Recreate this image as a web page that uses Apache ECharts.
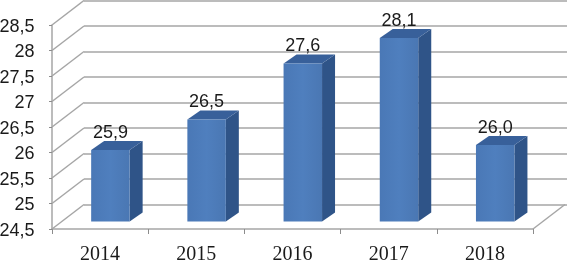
<!DOCTYPE html>
<html>
<head>
<meta charset="utf-8">
<style>html,body{margin:0;padding:0;background:#fff}#c{width:568px;height:261px}</style>
<script src="https://cdn.jsdelivr.net/npm/echarts@6/dist/echarts.min.js"></script>
</head>
<body>
<div id="c"></div>
<script>
const categories = ['2014', '2015', '2016', '2017', '2018'];
const values = [25.9, 26.5, 27.6, 28.1, 26.0];
const yTicks = [24.5, 25, 25.5, 26, 26.5, 27, 27.5, 28, 28.5];

const GRID_COLOR = '#a6a6a6';
const comma = v => String(v).replace('.', ',');
const chart = echarts.init(document.getElementById('c'), null, { renderer: 'canvas' });
const yMin = yTicks[0], yMax = yTicks[yTicks.length - 1];
const wallDx = 32, wallDy = -24.5;
const barDx = 10.3, barDy = -7.5, sideDx = 13, sideDy = -9;

function renderBar(params, api) {
  const i = api.value(0), v = api.value(1);
  const top = api.coord([i, v]), base = api.coord([i, yMin]);
  const w = api.size([1, 0])[0] * 0.4;
  const x0 = top[0] + barDx - w / 2, x1 = x0 + w;
  const yT = top[1] + barDy, yB = base[1] + barDy;
  return {
    type: 'group',
    children: [
      { type: 'polygon', shape: { points: [[x1, yT], [x1 + sideDx, yT + sideDy], [x1 + sideDx, yB + sideDy], [x1, yB]] }, style: { fill: '#2f5488' } },
      { type: 'polygon', shape: { points: [[x0, yT], [x0 + sideDx, yT + sideDy], [x1 + sideDx, yT + sideDy], [x1, yT]] }, style: { fill: '#38609a' } },
      { type: 'rect', shape: { x: x0, y: yT, width: w, height: yB - yT },
        style: { fill: new echarts.graphic.LinearGradient(0, 0, 1, 0, [{ offset: 0, color: '#4a78b6' }, { offset: 0.5, color: '#4f7fbe' }, { offset: 1, color: '#4a77b3' }]) } },
      { type: 'text', x: (x0 + x1) / 2, y: yT - 17,
        style: { text: v.toFixed(1).replace('.', ','), fontFamily: 'Liberation Sans', fontSize: 18, fill: '#1a1a1a', align: 'center', verticalAlign: 'middle' } }
    ]
  };
}

function renderFloorLines(params, api) {
  const v = api.value(0);
  const p = api.coord([0, v]);
  const cs = params.coordSys;
  const line = (x, y) => ({ type: 'line', shape: { x1: x, y1: y, x2: x + wallDx, y2: y + wallDy }, style: { stroke: GRID_COLOR, lineWidth: 1.5 } });
  const children = [line(cs.x, p[1])];
  if (v === yMin) children.push(line(cs.x + cs.width, p[1]));
  return { type: 'group', children };
}

chart.setOption({
  animation: false,
  backgroundColor: '#fff',
  grid: [
    { left: 52, right: 35, top: 25, bottom: 32, outerBoundsMode: 'none' },
    { left: 84, right: 1, top: 0.5, bottom: 56.5, outerBoundsMode: 'none' }
  ],
  xAxis: [
    { type: 'category', gridIndex: 0, data: categories,
      axisLine: { show: true, lineStyle: { color: GRID_COLOR, width: 1.5 } },
      axisTick: { show: true, length: 5, lineStyle: { color: '#8c8c8c' } },
      axisLabel: { fontFamily: 'Liberation Serif', fontSize: 20, color: '#1a1a1a', margin: 16 },
      splitLine: { show: false } },
    { type: 'category', gridIndex: 1, data: categories, axisLine: { show: false }, axisTick: { show: false }, axisLabel: { show: false }, splitLine: { show: false } }
  ],
  yAxis: [
    { type: 'value', gridIndex: 0, min: yMin, max: yMax, interval: 0.5,
      axisLine: { show: true, lineStyle: { color: GRID_COLOR, width: 1.5 } },
      axisTick: { show: true, length: 3, lineStyle: { color: '#8c8c8c' } },
      axisLabel: { formatter: v => '{a|' + comma(v) + '}', margin: 17.5,
        rich: { a: { fontFamily: 'Liberation Sans', fontSize: 18, color: '#1a1a1a', padding: [4, 0, 0, 0] } } },
      splitLine: { show: false } },
    { type: 'value', gridIndex: 1, min: yMin, max: yMax, interval: 0.5,
      axisLine: { show: false }, axisTick: { show: false }, axisLabel: { show: false },
      splitLine: { show: true, lineStyle: { color: GRID_COLOR, width: 1.5 } } }
  ],
  series: [
    { type: 'custom', xAxisIndex: 0, yAxisIndex: 0, renderItem: renderFloorLines, data: yTicks.map(v => [v]), encode: { y: 0 }, z: 1, silent: true },
    { type: 'custom', xAxisIndex: 0, yAxisIndex: 0, renderItem: renderBar, data: values.map((v, i) => [i, v]), encode: { x: 0, y: 1 }, clip: false, z: 5, silent: true }
  ]
});
</script>
</body>
</html>
